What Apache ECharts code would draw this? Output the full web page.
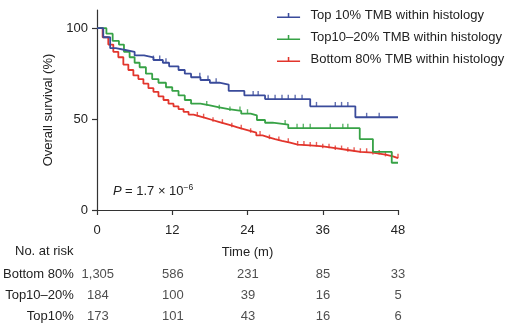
<!DOCTYPE html>
<html>
<head>
<meta charset="utf-8">
<script src="https://cdn.jsdelivr.net/npm/echarts@6/dist/echarts.min.js"></script>
<style>html,body{margin:0;padding:0;background:#fff}#c{width:509px;height:327px}</style>
</head>
<body>
<div id="c"></div>
<script>
// ---- data ----
var seriesNames = ['Top 10% TMB within histology', 'Top10\u201320% TMB within histology', 'Bottom 80% TMB within histology'];
var blueSteps = [[0,100],[1,95],[2.1,89],[3,88],[4.5,87],[6,85],[7.5,84],[9,82.5],[10.5,81],[11.5,79],[13,77],[14,75],[15,73],[16.5,71.5],[18,70],[19.5,69],[21,65.5],[23.5,63],[26.8,61],[34,57],[41.2,51],[48,51]];
var greenSteps = [[0,100],[1.5,97],[2.5,93],[3.5,91],[4.3,87],[5.2,84],[6,81],[6.8,78.5],[7.8,75],[8.8,72],[9.8,70],[11,67.5],[12,65.5],[13,63],[14,60.5],[15,58.5],[16.5,57.5],[18,56.5],[19.5,55.5],[21,54.5],[23,53],[24.5,52],[25.5,49.5],[26.8,48],[28,47],[30.5,45],[41.9,39],[44,32],[47,26],[48,26]];
var redSteps = [[0,100],[0.9,95],[1.8,91],[2.6,87],[3.4,84],[4.2,80],[5,77],[5.8,74],[6.6,72],[7.4,69.5],[8.2,67],[9,65],[9.8,62.5],[10.6,60.5],[11.4,58.5],[12.2,57],[13,55.5],[13.8,54],[14.6,52.5],[15.4,51.5],[16.4,50.5],[17.4,49.5],[18.4,48.5],[19.4,47.5],[20.4,46.5],[21.4,45.5],[22.4,44.5],[23.4,43.5],[24.4,42.5],[25.4,41],[26.4,40],[27.4,39],[28.4,38],[29.5,37],[30.8,36],[32,35.5],[34,35],[36,34],[38,33],[40,32],[42,31.5],[44,30.5],[46,29.5],[47.2,28.5],[48,28.5]];
var blueCensor = [9,10,11,16.4,17.7,19,24.9,25.7,27.3,28.4,29.5,30.5,31.6,32.7,35,38,39,40,43,45];
var greenCensor = [17.5,19.5,21.2,22.8,24,30,31.9,32.9,34,37.2,39.2,40];
var redCensor = [16,17,18.5,20,21.5,23,24.5,26,27.5,29,30.5,32,33,34,35,36,37,38,39,40,41,42,43,44,45,46,47,48];
var xTicks = [0,12,24,36,48];
var yTicks = [0,50,100];
var riskRows = ['Bottom 80%', 'Top10\u201320%', 'Top10%'];
var riskBottom = ['1,305','586','231','85','33'];
var riskMid = ['184','100','39','16','5'];
var riskTop = ['173','101','43','16','6'];
var pText = '1.7 \u00d7 10';
var pExp = '\u22126';

var colors = ['#3a4b9b', '#37a246', '#e2352c'];
var FONT = 'Liberation Sans, Arial, Helvetica, sans-serif';
var FS = 13;

function stepValue(steps, t) {
  var v = steps[0][1];
  for (var i = 0; i < steps.length; i++) { if (steps[i][0] <= t) v = steps[i][1]; }
  return v;
}
function censorData(steps, times) { return times.map(function (t) { return [t, stepValue(steps, t)]; }); }

var tickIcon = 'path://M0,6h24v1.6h-24z M11.2,2.4h1.6v4h-1.6z';

var allSteps = [blueSteps, greenSteps, redSteps];
var allCensor = [blueCensor, greenCensor, redCensor];
var series = [];
for (var k = 0; k < 3; k++) {
  series.push({
    name: seriesNames[k], type: 'line', step: 'end', data: allSteps[k],
    xAxisIndex: 0, yAxisIndex: 0, symbol: 'none', silent: true,
    lineStyle: { color: colors[k], width: 1.8 }, itemStyle: { color: colors[k] }, z: 3 - k + 2
  });
  series.push({
    name: seriesNames[k], type: 'scatter', data: censorData(allSteps[k], allCensor[k]),
    xAxisIndex: 0, yAxisIndex: 0, symbol: 'rect', symbolSize: [1.4, 4.5], symbolOffset: [0, -2.2],
    itemStyle: { color: colors[k] }, silent: true, z: 3 - k + 2
  });
}
var riskAll = [riskBottom, riskMid, riskTop];
for (var r = 0; r < 3; r++) {
  series.push({
    type: 'scatter', xAxisIndex: 1, yAxisIndex: 1, symbolSize: 0, silent: true,
    data: xTicks.map(function (t, i) { return { value: [t, riskRows[r]], label: { formatter: riskAll[r][i] } }; }),
    label: { show: true, position: 'inside', color: '#222', fontSize: FS, fontFamily: FONT }
  });
}

var chart = echarts.init(document.getElementById('c'), null, { renderer: 'canvas' });
chart.setOption({
  animation: false,
  backgroundColor: '#fff',
  textStyle: { fontFamily: FONT },
  grid: [
    { left: 97, right: 111, top: 10, bottom: 117, containLabel: false },
    { left: 97, right: 111, top: 264, height: 65, containLabel: false }
  ],
  legend: {
    data: seriesNames, orient: 'vertical', left: 272, top: 4, itemGap: 9,
    itemWidth: 24, itemHeight: 5, icon: tickIcon, selectedMode: false,
    textStyle: { fontSize: FS, color: '#222', fontFamily: FONT, padding: [0, 0, 0, 5] }
  },
  xAxis: [
    { type: 'value', gridIndex: 0, min: 0, max: 48, interval: 12,
      name: 'Time (m)', nameLocation: 'middle', nameGap: 36,
      nameTextStyle: { fontSize: FS, color: '#222', fontFamily: FONT },
      axisLine: { show: true, lineStyle: { color: '#333', width: 1.2 } },
      axisTick: { show: true, length: 5, lineStyle: { color: '#333', width: 1.2 } },
      axisLabel: { fontSize: FS, color: '#222', margin: 14 },
      splitLine: { show: false } },
    { type: 'value', gridIndex: 1, min: 0, max: 48, interval: 12, show: false }
  ],
  yAxis: [
    { type: 'value', gridIndex: 0, min: 0, max: 110,
      name: 'Overall survival (%)', nameLocation: 'middle', nameGap: 38, nameRotate: 90,
      nameTextStyle: { fontSize: FS, color: '#222', fontFamily: FONT },
      axisLine: { show: true, lineStyle: { color: '#333', width: 1.2 } },
      axisTick: { show: true, length: 5, customValues: yTicks, lineStyle: { color: '#333', width: 1.2 } },
      axisLabel: { fontSize: FS, color: '#222', margin: 9, customValues: yTicks },
      splitLine: { show: false } },
    { type: 'category', gridIndex: 1, data: riskRows.slice(), inverse: true,
      axisLine: { show: false }, axisTick: { show: false },
      axisLabel: { fontSize: FS, color: '#222', margin: 24 } }
  ],
  graphic: [
    { type: 'text', left: 15, top: 245, style: { text: 'No. at risk', font: FS + 'px ' + FONT, fill: '#222' } },
    { type: 'text', left: 113, top: 183, style: {
        text: '{i|P} {n|= ' + pText + '}{s|' + pExp + '}',
        rich: {
          i: { fontStyle: 'italic', fontSize: 13, fill: '#222', fontFamily: FONT },
          n: { fontSize: 13, fill: '#222', fontFamily: FONT },
          s: { fontSize: 8.5, fill: '#222', fontFamily: FONT, padding: [0, 0, 8, 0] }
        } } }
  ],
  series: series
});
</script>
</body>
</html>
